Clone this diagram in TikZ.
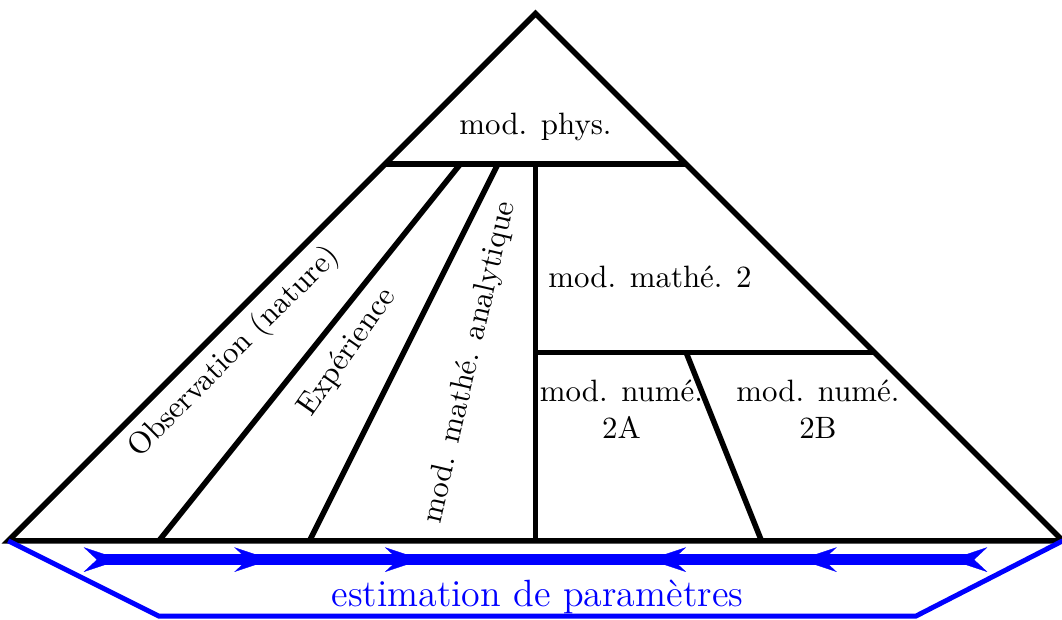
\documentclass[tikz,border=0pt]{standalone}
\usepackage{tikz}
\usetikzlibrary{arrows.meta}

\begin{document}
\begin{tikzpicture}[x=0.857cm,y=0.857cm,
  wall/.style={line width=1.8pt},
  param/.style={blue,line width=1.6pt},
  paramflow/.style={blue,line width=3.5pt},
  paramtip/.style={blue,line width=0.1pt,-{Stealth[length=12pt,width=8pt,inset=4.3pt]}}]
\useasboundingbox (-7.11,-1.04) rectangle (6.99,7.18);
\path coordinate (bl) at (-7,0)
      coordinate (br) at (7,0)
      coordinate (top) at (0,7)
      coordinate (pl) at (-2,5)
      coordinate (pr) at (2,5)
      coordinate (mid) at (0,5)
      coordinate (base) at (0,0)
      coordinate (ml) at (0,2.5)
      coordinate (mr) at (4.5,2.5);
% pyramide
\draw[wall] (bl) -- (top) -- (br) -- cycle;
\draw[wall] (pl) -- (pr);
\draw[wall] (-5,0) -- (-1,5);
\draw[wall] (-3,0) -- (-0.5,5);
\draw[wall] (base) -- (mid);
\draw[wall] (ml) -- (mr);
\draw[wall] (2,2.5) -- (3,0);
\node (phys) at (0,5.5) {mod. phys.};
\node (math2) at (1.52,3.5) {mod. math\'e. 2};
\node[align=center] (num2a) at (1.14,1.75) {mod. num\'e.\\2A};
\node[align=center] (num2b) at (3.75,1.75) {mod. num\'e.\\2B};
\node[rotate=45] (obs) at (-4,2.5) {Observation (nature)};
\node[rotate=55] (exp) at (-2.5,2.5) {Exp\'erience};
\node[rotate=77] (analyt) at (-0.87,2.37) {mod. math\'e. analytique};
% estimation
\draw[param] (bl) -- (-5,-1) -- node[above,inner sep=0pt,font=\fontsize{12.3}{15}\selectfont] (estim) {estimation de param\`etres} (5.05,-1) -- (br);
\draw[paramflow] (-5.8,-.25) -- (5.8,-.25);
\foreach \x in {-6,-4,-2}
  \draw[paramtip] (\x,-.25) ++(5pt,0) -- ++(7pt,0);
\foreach \x in {2,4,6}
  \draw[paramtip] (\x,-.25) ++(-5pt,0) -- ++(-7pt,0);
\end{tikzpicture}
\end{document}
